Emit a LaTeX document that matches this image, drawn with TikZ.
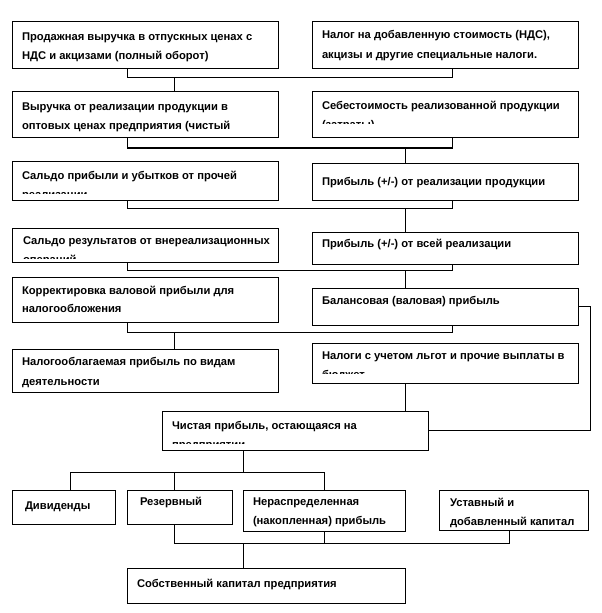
\documentclass[tikz,border=0pt]{standalone}
\usepackage{fontspec}
\setmainfont{Liberation Sans}
\begin{document}
\begin{tikzpicture}[x=0.75pt,y=-0.75pt,
  boxst/.style={draw=black, line width=0.75pt, inner sep=0pt, outer sep=0pt, fill=white},
  txt/.style={anchor=west, inner sep=0pt, outer sep=0pt, font=\bfseries\fontsize{8.4}{10}\selectfont, text height=6pt, text depth=1.75pt},
  conn/.style={draw=black, line width=0.75pt}]
\newcommand\mkbox[5]{\node[boxst, anchor=north west, minimum width={(#4-#2)*0.75pt}, minimum height={(#5-#3)*0.75pt}] (#1) at (#2,#3) {};}
\newcommand\tl[4]{\node[txt] (#1) at (#2,#3) {#4};}
\useasboundingbox (0,0) rectangle (601,613);
% x positions
\coordinate (xa) at (127,0);
\coordinate (xb) at (452,0);
\coordinate (xc) at (174,0);
\coordinate (xd) at (405,0);
\coordinate (xe) at (243,0);
\coordinate (xf) at (324,0);
\coordinate (xg) at (70,0);
\coordinate (xh) at (509,0);
\coordinate (hj) at (0,472);
\coordinate (hb) at (0,543);
% boxes
\mkbox{L1}{12}{22}{278}{69}
\mkbox{R1}{312}{22}{578}{69}
\mkbox{L2}{12}{92}{278}{138}
\mkbox{R2}{312}{92}{578}{138}
\mkbox{L3}{12}{161}{278}{200}
\mkbox{R3}{312}{163}{578}{200}
\mkbox{L4}{12}{228}{278}{262}
\mkbox{R4}{312}{232}{578}{264}
\mkbox{L5}{12}{277}{278}{322}
\mkbox{R5}{312}{288}{578}{325}
\mkbox{L6}{12}{349}{278}{392}
\mkbox{R6}{312}{343}{578}{383}
\mkbox{B7}{162}{411}{428}{450}
\mkbox{D1}{12}{490}{115}{524}
\mkbox{D2}{127}{490}{232}{524}
\mkbox{D3}{243}{490}{405}{531}
\mkbox{D4}{439}{490}{588}{530}
\mkbox{S}{127}{568}{405}{603}
% texts
\tl{t1a}{22}{38}{Продажная выручка в отпускных ценах с}
\tl{t1b}{22}{57}{НДС и акцизами (полный оборот)}
\tl{r1a}{322}{36}{Налог на добавленную стоимость (НДС),}
\tl{r1b}{322}{56}{акцизы и другие специальные налоги.}
\tl{t2a}{22}{108}{Выручка от реализации продукции в}
\tl{t2b}{22}{127}{оптовых ценах предприятия  (чистый}
\tl{r2a}{322}{107}{Себестоимость  реализованной продукции}
\begin{scope}\clip (312,92) rectangle (578,123.5);
\tl{r2b}{322}{126}{(затраты)}
\end{scope}
\tl{t3a}{22}{177}{Сальдо прибыли и убытков от прочей}
\begin{scope}\clip (12,161) rectangle (278,193.5);
\tl{t3b}{22}{196}{реализации}
\end{scope}
\tl{r3a}{322}{183}{Прибыль (+/-) от реализации продукции}
\tl{t4a}{23}{242}{Сальдо результатов от внереализационных}
\begin{scope}\clip (12,228) rectangle (278,258);
\tl{t4b}{23}{261}{операций}
\end{scope}
\tl{r4a}{322}{245}{Прибыль (+/-) от всей реализации}
\tl{t5a}{22}{292}{Корректировка  валовой прибыли для}
\tl{t5b}{22}{310}{налогообложения}
\tl{r5a}{322}{302}{Балансовая (валовая) прибыль}
\tl{t6a}{22}{363}{Налогооблагаемая прибыль по видам}
\tl{t6b}{22}{383}{деятельности}
\tl{r6a}{322}{357}{Налоги с учетом льгот и прочие выплаты в}
\begin{scope}\clip (312,343) rectangle (578,373.5);
\tl{r6b}{322}{376}{бюджет}
\end{scope}
\tl{t7a}{172}{427}{Чистая прибыль, остающаяся на}
\begin{scope}\clip (162,411) rectangle (428,443.5);
\tl{t7b}{172}{446}{предприятии}
\end{scope}
\tl{d1a}{25}{507}{Дивиденды}
\tl{d2a}{140}{503}{Резервный}
\tl{d3a}{253}{503}{Нераспределенная}
\begin{scope}\clip (243,490) rectangle (405,527);
\tl{d3b}{253}{522}{(накопленная) прибыль}
\end{scope}
\tl{d4a}{450}{504}{Уставный и}
\begin{scope}\clip (439,490) rectangle (588,527);
\tl{d4b}{450}{523}{добавленный капитал}
\end{scope}
\tl{s1a}{137}{585}{Собственный капитал предприятия}
% connectors
\draw[conn] (L1.south -| xa) -- ++(0,9) -| (R1.south -| xb);
\draw[conn] (L2.north -| xc) -- ++(0,-14);
\draw[conn] (L2.south -| xa) -- ++(0,10) -| (R2.south -| xb);
\draw[conn] (R3.north -| xd) -- ++(0,-15);
\draw[conn] (L3.south -| xa) -- ++(0,8) -| (R3.south -| xb);
\draw[conn] (R4.north -| xd) -- ++(0,-24);
\draw[conn] (L4.south -| xa) -- ++(0,8) -| (R4.south -| xb);
\draw[conn] (R5.north -| xd) -- ++(0,-18);
\draw[conn] (L5.south -| xa) -- ++(0,10) -| (R5.south -| xb);
\draw[conn] (L6.north -| xc) -- ++(0,-17);
\draw[conn] (R5.east) -- ++(12,0) |- (B7.east);
\draw[conn] (R6.south -| xd) -- (B7.north -| xd);
\draw[conn] (B7.south -| xe) -- (hj -| xe);
\draw[conn] (D1.north -| xg) -- (hj -| xg) -- (hj -| xf) -- (D3.north -| xf);
\draw[conn] (D2.north -| xc) -- (hj -| xc);
\draw[conn] (D2.south -| xc) -- (hb -| xc) -- (hb -| xh) -- (D4.south -| xh);
\draw[conn] (D3.south) -- (D3.south |- hb);
\draw[conn] (S.north -| xe) -- (hb -| xe);
\end{tikzpicture}
\end{document}
